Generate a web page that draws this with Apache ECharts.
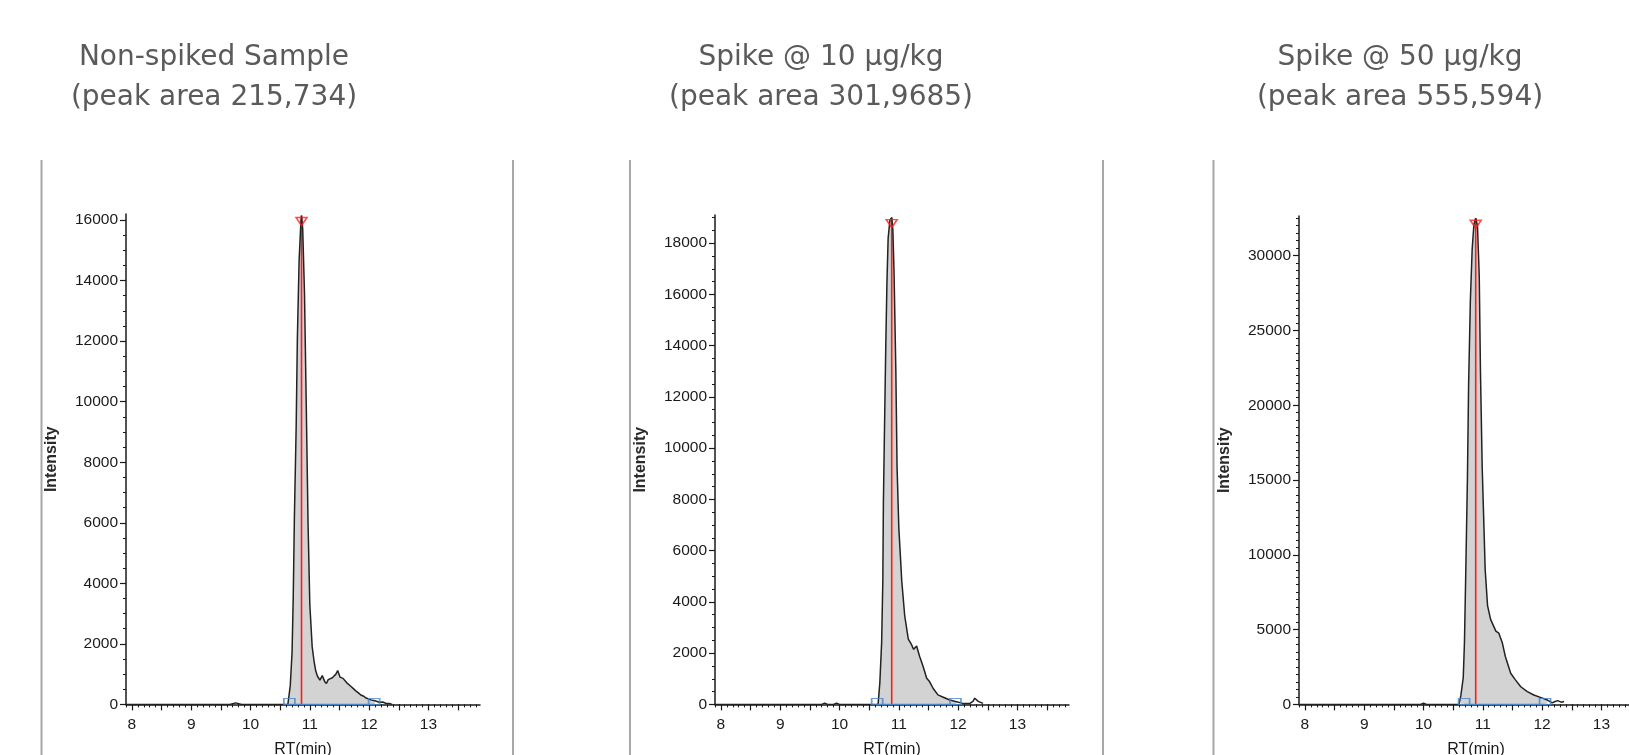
<!DOCTYPE html>
<html>
<head>
<meta charset="utf-8">
<title>Chromatograms</title>
<script src="https://cdn.jsdelivr.net/npm/echarts@6.0.0/dist/echarts.min.js"></script>
<style>
html, body { margin: 0; padding: 0; background: #fff; overflow: hidden; }
/* wider than the window: the last panel runs off the right edge */
#main { width: 1680px; height: 755px; }
</style>
</head>
<body>
<div id="main"></div>
<script>
var titles = ['Non-spiked Sample\n(peak area 215,734)', 'Spike @ 10 μg/kg\n(peak area 301,9685)', 'Spike @ 50 μg/kg\n(peak area 555,594)']

// RT (min) / intensity
var rt1 = [7.9, 9.65, 9.75, 9.85, 10.55, 10.63, 10.67, 10.70, 10.72, 10.74, 10.77, 10.79, 10.82, 10.85, 10.86, 10.88, 10.91, 10.94, 10.97, 11.00, 11.04, 11.07, 11.10, 11.13, 11.17, 11.21, 11.25, 11.28, 11.31, 11.34, 11.38, 11.41, 11.44, 11.47, 11.51, 11.54, 11.56, 11.59, 11.62, 11.65, 11.69, 11.73, 11.78, 11.82, 11.86, 11.91, 11.95, 12.03, 12.10, 12.17, 12.23, 12.28, 12.34, 12.39]
var int1 = [0, 0, 50, 0, 0, 0, 620, 1700, 3500, 6200, 9200, 12100, 14700, 15950, 16150, 15700, 13600, 9900, 6000, 3300, 1900, 1450, 1100, 930, 800, 950, 760, 690, 820, 800, 880, 930, 1000, 1120, 900, 930, 860, 820, 720, 700, 600, 530, 440, 380, 310, 270, 210, 150, 120, 70, 80, 40, 30, 0]

var rt2 = [7.9, 9.7, 9.75, 9.8, 9.9, 9.95, 10.0, 10.6, 10.65, 10.68, 10.71, 10.73, 10.74, 10.76, 10.78, 10.80, 10.82, 10.85, 10.88, 10.90, 10.92, 10.95, 10.97, 11.00, 11.05, 11.10, 11.16, 11.21, 11.25, 11.28, 11.30, 11.35, 11.41, 11.47, 11.52, 11.58, 11.66, 11.75, 11.86, 11.97, 12.08, 12.20, 12.25, 12.28, 12.34, 12.42]
var int2 = [0, 0, 50, 0, 0, 50, 0, 0, 0, 850, 2400, 4800, 7900, 11000, 14000, 16500, 18200, 18900, 19000, 18500, 16800, 13000, 9300, 6900, 4800, 3450, 2550, 2350, 2150, 2080, 2280, 1880, 1480, 1020, 880, 620, 370, 280, 170, 105, 40, 40, 120, 240, 120, 40]

var rt3 = [7.9, 9.95, 10.0, 10.05, 10.6, 10.63, 10.67, 10.69, 10.71, 10.74, 10.76, 10.79, 10.82, 10.85, 10.88, 10.91, 10.94, 10.96, 10.99, 11.02, 11.04, 11.08, 11.13, 11.18, 11.22, 11.27, 11.33, 11.38, 11.47, 11.55, 11.64, 11.75, 11.86, 11.97, 12.09, 12.17, 12.21, 12.26, 12.32, 12.37]
var int3 = [0, 0, 80, 0, 0, 600, 1800, 4100, 8300, 15000, 21300, 27000, 30400, 32100, 32500, 32000, 28600, 22300, 15800, 11700, 9000, 6600, 5700, 5250, 4900, 4760, 4100, 3200, 2080, 1640, 1180, 850, 630, 470, 290, 100, 180, 250, 150, 200]

// peak apex and integration limits
var peakRt = [10.86, 10.88, 10.88]
var peakTop = [16150, 19000, 32500]
var peakStart = [10.655, 10.635, 10.685]
var peakEnd = [12.085, 11.955, 12.05]

// ticks
var xLabels = [8, 9, 10, 11, 12, 13]
var xMajor = [8, 8.5, 9, 9.5, 10, 10.5, 11, 11.5, 12, 12.5, 13, 13.5]
var yLabels1 = [0, 2000, 4000, 6000, 8000, 10000, 12000, 14000, 16000]
var yLabels2 = [0, 2000, 4000, 6000, 8000, 10000, 12000, 14000, 16000, 18000]
var yLabels3 = [0, 5000, 10000, 15000, 20000, 25000, 30000]
var yMax = [16200, 19100, 32650]

var rts = [rt1, rt2, rt3]
var ints = [int1, int2, int3]
var yLabels = [yLabels1, yLabels2, yLabels3]

var gridLeft = [126, 715, 1299]
var gridTop = [214, 215, 216]
var titleX = [209, 816, 1395]
var borderX = [41.5, 513, 630, 1103, 1213.5]

var xMin = 7.9, xMax = 13.87
var axisColor = '#1a1a1a'
var tickFont = 'Liberation Sans, Arial, sans-serif'

var xMinor = []
for (var k = 79; k <= 138; k++) xMinor.push(k / 10)

function yMinor(max) {
    var arr = []
    for (var v = 0; v <= max; v += 500) arr.push(v)
    return arr
}

function plain(v) {
    return String(Math.round(v * 10) / 10)
}

var option = {
    animation: false,
    backgroundColor: '#fff',
    title: [],
    grid: [],
    xAxis: [],
    yAxis: [],
    series: [],
    graphic: []
}

for (var i = 0; i < 3; i++) {
    option.title.push({
        text: titles[i],
        left: titleX[i],
        top: 33,
        textAlign: 'center',
        textStyle: {
            fontFamily: 'DejaVu Sans, sans-serif',
            fontSize: 28,
            fontWeight: 'normal',
            lineHeight: 40,
            color: '#5a5a5a'
        }
    })
    option.grid.push({
        left: gridLeft[i],
        top: gridTop[i],
        width: 354,
        height: 704.4 - gridTop[i],
        outerBoundsMode: 'none',
        containLabel: false
    })
    // main axes (labels + major ticks)
    option.xAxis.push({
        gridIndex: i, type: 'value', min: xMin, max: xMax, position: 'bottom',
        name: 'RT(min)', nameLocation: 'middle', nameGap: 37,
        nameTextStyle: { fontFamily: tickFont, fontSize: 16, color: axisColor },
        axisLine: { onZero: false, lineStyle: { color: axisColor, width: 1.5 } },
        axisTick: { length: 6, customValues: xMajor, lineStyle: { color: axisColor, width: 1.2 } },
        axisLabel: { customValues: xLabels, margin: 12, fontFamily: tickFont, fontSize: 15.5, color: axisColor, formatter: plain },
        splitLine: { show: false }
    })
    option.yAxis.push({
        gridIndex: i, type: 'value', min: 0, max: yMax[i], position: 'left',
        name: 'Intensity', nameLocation: 'middle', nameGap: 66, nameRotate: 90,
        nameTextStyle: { fontFamily: tickFont, fontSize: 16, fontWeight: 'bold', color: '#2a2a2a' },
        axisLine: { onZero: false, lineStyle: { color: axisColor, width: 1.5 } },
        axisTick: { length: 6, customValues: yLabels[i], lineStyle: { color: axisColor, width: 1.2 } },
        axisLabel: { customValues: yLabels[i], margin: 8, fontFamily: tickFont, fontSize: 15.5, color: axisColor, formatter: plain },
        splitLine: { show: false }
    })
}

// minor tick axes, laid over the main ones
for (var i = 0; i < 3; i++) {
    option.xAxis.push({
        gridIndex: i, type: 'value', min: xMin, max: xMax, position: 'bottom',
        axisLine: { show: false },
        axisTick: { length: 3, customValues: xMinor, lineStyle: { color: axisColor, width: 1 } },
        axisLabel: { show: false },
        splitLine: { show: false }
    })
    option.yAxis.push({
        gridIndex: i, type: 'value', min: 0, max: yMax[i], position: 'left',
        axisLine: { show: false },
        axisTick: { length: 3, customValues: yMinor(yMax[i]), lineStyle: { color: axisColor, width: 1 } },
        axisLabel: { show: false },
        splitLine: { show: false }
    })
}

for (var i = 0; i < 3; i++) {
    var pts = []
    var n = Math.min(rts[i].length, ints[i].length)
    for (var j = 0; j < n; j++) pts.push([rts[i][j], ints[i][j]])
    var filled = pts.filter(function (p) {
        return p[0] >= peakStart[i] - 0.08 && p[0] <= peakEnd[i] + 0.08
    })

    // integrated area
    option.series.push({
        type: 'line', xAxisIndex: i, yAxisIndex: i, data: filled,
        showSymbol: false, silent: true, z: 1,
        lineStyle: { width: 0 },
        areaStyle: { color: '#d3d3d3', opacity: 1 }
    })
    // apex line
    option.series.push({
        type: 'line', xAxisIndex: i, yAxisIndex: i,
        data: [[peakRt[i], 0], [peakRt[i], peakTop[i]]],
        showSymbol: false, z: 2,
        lineStyle: { color: '#ff1a1a', width: 1.6 }
    })
    // trace
    option.series.push({
        type: 'line', xAxisIndex: i, yAxisIndex: i, data: pts,
        showSymbol: false, z: 3,
        lineStyle: { color: '#222', width: 1.5 }
    })
    // baseline between integration limits
    option.series.push({
        type: 'line', xAxisIndex: i, yAxisIndex: i,
        data: [[peakStart[i], 0], [peakEnd[i], 0]],
        showSymbol: false, z: 4,
        lineStyle: { color: '#4a86c5', width: 1.5 }
    })
    option.series.push({
        type: 'scatter', xAxisIndex: i, yAxisIndex: i,
        data: [[peakStart[i], 0], [peakEnd[i], 0]],
        symbol: 'rect', symbolSize: [11, 6], symbolOffset: [0, -3], z: 5,
        itemStyle: { color: 'rgba(0,0,0,0)', borderColor: '#4a86c5', borderWidth: 1.3 }
    })
    // apex marker
    option.series.push({
        type: 'scatter', xAxisIndex: i, yAxisIndex: i,
        data: [[peakRt[i], peakTop[i]]],
        symbol: 'triangle', symbolRotate: 180, symbolSize: [11, 8], symbolOffset: [0, 6], z: 6,
        itemStyle: { color: 'rgba(0,0,0,0)', borderColor: '#ff1a1a', borderWidth: 1.5 }
    })
}

// panel frames
for (var b = 0; b < borderX.length; b++) {
    option.graphic.push({
        type: 'line',
        shape: { x1: borderX[b], y1: 160, x2: borderX[b], y2: 755 },
        style: { stroke: '#a8a8a8', lineWidth: 2 },
        silent: true
    })
}

var myChart = echarts.init(document.getElementById('main'))
myChart.setOption(option)
</script>
</body>
</html>
